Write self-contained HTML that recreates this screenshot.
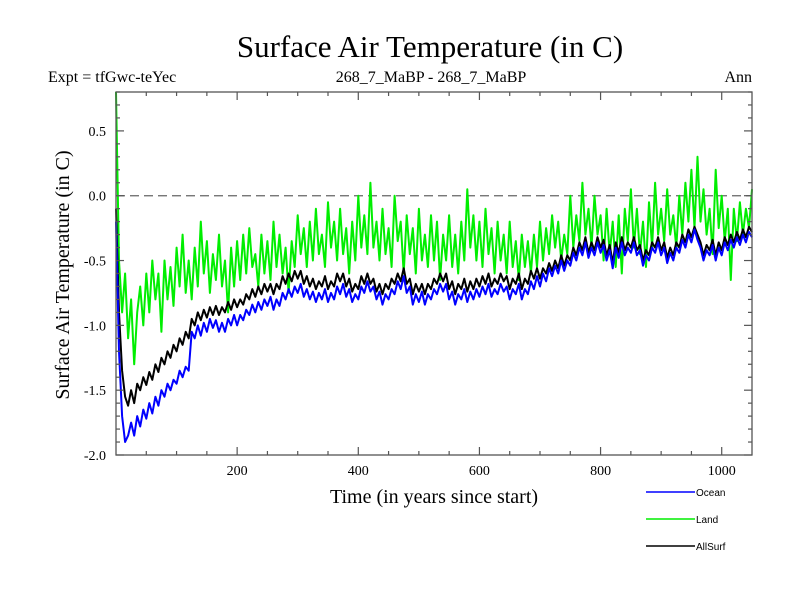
<!DOCTYPE html>
<html><head><meta charset="utf-8"><style>
body{margin:0;background:#fff;}
svg{display:block;}
text{font-family:"Liberation Serif",serif;}
</style></head><body>
<svg id="chart" width="800" height="600" xmlns="http://www.w3.org/2000/svg">
<text x="430" y="57" font-size="31" text-anchor="middle">Surface Air Temperature (in C)</text>
<text x="48" y="82" font-size="16">Expt = tfGwc-teYec</text>
<text x="431" y="82" font-size="16" text-anchor="middle">268_7_MaBP - 268_7_MaBP</text>
<text x="752" y="82" font-size="16" text-anchor="end">Ann</text>
<text transform="translate(69,275) rotate(-90)" font-size="20" text-anchor="middle">Surface Air Temperature (in C)</text>
<text x="434" y="503" font-size="20" text-anchor="middle">Time (in years since start)</text>
<g id="plot"></g>
<g id="axes"></g>
<g id="legend"></g>
</svg>
<script>
const landStep = 5;
const seriesStep = 5;
const landValues = [0.8,-0.5,-0.9,-0.6,-1.1,-0.8,-1.3,-0.9,-0.7,-1.0,-0.6,-0.9,-0.5,-0.8,-0.6,-1.05,-0.5,-0.8,-0.55,-0.85,-0.4,-0.7,-0.3,-0.75,-0.5,-0.8,-0.4,-0.7,-0.2,-0.6,-0.35,-0.75,-0.45,-0.65,-0.3,-0.7,-0.5,-0.9,-0.4,-0.7,-0.35,-0.65,-0.3,-0.6,-0.25,-0.55,-0.45,-0.7,-0.3,-0.6,-0.35,-0.65,-0.2,-0.55,-0.3,-0.6,-0.4,-0.75,-0.35,-0.55,-0.15,-0.45,-0.25,-0.55,-0.2,-0.5,-0.1,-0.45,-0.3,-0.55,-0.05,-0.4,-0.2,-0.5,-0.1,-0.45,-0.25,-0.6,-0.2,-0.5,0.0,-0.4,-0.15,-0.45,0.1,-0.4,-0.2,-0.5,-0.1,-0.45,-0.25,-0.55,0.0,-0.35,-0.2,-0.6,-0.15,-0.45,-0.25,-0.6,-0.1,-0.5,-0.3,-0.55,-0.15,-0.5,-0.2,-0.65,-0.3,-0.5,-0.15,-0.55,-0.3,-0.6,-0.2,-0.5,0.05,-0.4,-0.15,-0.5,-0.2,-0.55,-0.1,-0.45,-0.25,-0.6,-0.2,-0.5,-0.3,-0.6,-0.2,-0.55,-0.35,-0.65,-0.3,-0.55,-0.35,-0.6,-0.3,-0.55,-0.2,-0.5,-0.25,-0.45,-0.15,-0.4,-0.2,-0.5,-0.3,-0.45,0.0,-0.4,-0.15,-0.35,0.1,-0.3,-0.1,-0.4,0.0,-0.3,-0.15,-0.5,-0.1,-0.45,-0.2,-0.55,-0.15,-0.6,-0.1,-0.35,0.05,-0.4,-0.1,-0.45,-0.2,-0.55,-0.05,-0.4,0.1,-0.3,-0.1,-0.35,0.05,-0.3,-0.15,-0.4,0.0,-0.3,0.1,-0.2,0.2,-0.25,0.3,-0.2,0.05,-0.3,-0.1,-0.45,0.2,-0.25,0.0,-0.35,-0.1,-0.65,-0.1,-0.35,-0.05,-0.3,-0.1,-0.25,0.05];
const allSurfValues = [-0.1,-0.9,-1.35,-1.55,-1.62,-1.5,-1.6,-1.45,-1.5,-1.4,-1.46,-1.36,-1.42,-1.3,-1.36,-1.25,-1.3,-1.2,-1.25,-1.15,-1.2,-1.1,-1.15,-1.05,-1.1,-0.95,-1.0,-0.9,-0.96,-0.88,-0.94,-0.86,-0.92,-0.85,-0.92,-0.86,-0.9,-0.82,-0.88,-0.8,-0.86,-0.8,-0.84,-0.76,-0.8,-0.72,-0.78,-0.7,-0.76,-0.68,-0.74,-0.68,-0.76,-0.68,-0.72,-0.62,-0.68,-0.6,-0.66,-0.58,-0.64,-0.58,-0.68,-0.62,-0.7,-0.64,-0.72,-0.66,-0.7,-0.62,-0.72,-0.66,-0.7,-0.6,-0.66,-0.6,-0.7,-0.64,-0.74,-0.68,-0.72,-0.62,-0.68,-0.6,-0.68,-0.64,-0.74,-0.68,-0.76,-0.68,-0.72,-0.64,-0.68,-0.6,-0.66,-0.56,-0.68,-0.64,-0.76,-0.68,-0.74,-0.68,-0.76,-0.68,-0.72,-0.64,-0.68,-0.6,-0.66,-0.6,-0.72,-0.66,-0.76,-0.68,-0.72,-0.64,-0.74,-0.66,-0.72,-0.64,-0.7,-0.62,-0.68,-0.6,-0.7,-0.64,-0.68,-0.6,-0.66,-0.62,-0.72,-0.64,-0.68,-0.6,-0.72,-0.64,-0.68,-0.58,-0.64,-0.56,-0.64,-0.56,-0.6,-0.52,-0.58,-0.5,-0.56,-0.46,-0.54,-0.46,-0.5,-0.4,-0.46,-0.36,-0.42,-0.32,-0.44,-0.36,-0.42,-0.32,-0.4,-0.34,-0.46,-0.38,-0.52,-0.36,-0.44,-0.32,-0.42,-0.36,-0.4,-0.32,-0.42,-0.38,-0.5,-0.42,-0.46,-0.36,-0.4,-0.32,-0.42,-0.36,-0.48,-0.4,-0.46,-0.36,-0.4,-0.3,-0.36,-0.26,-0.32,-0.24,-0.3,-0.36,-0.46,-0.38,-0.42,-0.34,-0.46,-0.36,-0.42,-0.32,-0.38,-0.3,-0.36,-0.28,-0.34,-0.26,-0.32,-0.24,-0.28];
const oceanValues = [-0.2,-1.2,-1.7,-1.9,-1.85,-1.75,-1.85,-1.7,-1.78,-1.65,-1.72,-1.6,-1.68,-1.55,-1.62,-1.5,-1.55,-1.45,-1.5,-1.42,-1.45,-1.35,-1.4,-1.32,-1.35,-1.05,-1.1,-1.0,-1.08,-0.98,-1.05,-0.95,-1.02,-0.96,-1.05,-0.98,-1.05,-0.95,-1.0,-0.92,-1.0,-0.92,-0.96,-0.88,-0.92,-0.84,-0.9,-0.82,-0.88,-0.8,-0.85,-0.78,-0.88,-0.8,-0.85,-0.75,-0.8,-0.72,-0.78,-0.7,-0.75,-0.68,-0.78,-0.72,-0.8,-0.74,-0.82,-0.75,-0.8,-0.72,-0.82,-0.75,-0.8,-0.7,-0.76,-0.68,-0.78,-0.72,-0.82,-0.76,-0.8,-0.7,-0.75,-0.66,-0.74,-0.7,-0.8,-0.74,-0.84,-0.76,-0.8,-0.72,-0.76,-0.66,-0.72,-0.62,-0.75,-0.7,-0.84,-0.76,-0.82,-0.74,-0.84,-0.76,-0.8,-0.72,-0.76,-0.68,-0.74,-0.68,-0.8,-0.74,-0.84,-0.76,-0.8,-0.72,-0.82,-0.74,-0.8,-0.72,-0.78,-0.7,-0.76,-0.68,-0.78,-0.72,-0.76,-0.68,-0.74,-0.7,-0.8,-0.72,-0.76,-0.68,-0.8,-0.72,-0.76,-0.66,-0.72,-0.62,-0.7,-0.6,-0.66,-0.56,-0.62,-0.54,-0.6,-0.5,-0.58,-0.5,-0.54,-0.44,-0.5,-0.4,-0.46,-0.36,-0.48,-0.4,-0.46,-0.36,-0.44,-0.38,-0.5,-0.42,-0.56,-0.4,-0.48,-0.36,-0.46,-0.4,-0.44,-0.36,-0.46,-0.42,-0.54,-0.46,-0.5,-0.4,-0.44,-0.36,-0.46,-0.4,-0.52,-0.44,-0.5,-0.4,-0.44,-0.34,-0.4,-0.3,-0.36,-0.26,-0.34,-0.4,-0.5,-0.42,-0.46,-0.38,-0.5,-0.4,-0.46,-0.36,-0.42,-0.34,-0.4,-0.32,-0.38,-0.3,-0.36,-0.28,-0.32];
const yTicks = [-2.0,-1.5,-1.0,-0.5,0.0,0.5];
const yTickLabels = ["-2.0","-1.5","-1.0","-0.5","0.0","0.5"];
const xTicks = [200,400,600,800,1000];
const xTickLabels = ["200","400","600","800","1000"];
const legendNames = ["Ocean","Land","AllSurf"];
const legendColors = ["#0000ff","#00ee00","#000000"];

const NS="http://www.w3.org/2000/svg";
const L=116,R=752,T=92,B=455,X0=0,X1=1050,Y0=-2.0,Y1=0.8;
function sx(v){return L+(v-X0)/(X1-X0)*(R-L);}
function sy(v){return B-(v-Y0)/(Y1-Y0)*(B-T);}
function mk(tag,attrs,parent){const e=document.createElementNS(NS,tag);for(const k in attrs)e.setAttribute(k,attrs[k]);parent.appendChild(e);return e;}
const plot=document.getElementById('plot'),axes=document.getElementById('axes'),legend=document.getElementById('legend');

const zl=mk('line',{x1:L,x2:R,y1:sy(0),y2:sy(0),stroke:'#666','stroke-width':1.3,'stroke-dasharray':'9,5'},plot);



function drawSeries(vals,step,color,name){
  const pts=vals.map((v,i)=>sx(i*step).toFixed(1)+','+sy(v).toFixed(1)).join(' ');
  const p=mk('polyline',{points:pts,fill:'none',stroke:color,'stroke-width':2,'stroke-linejoin':'round'},plot);
  
  
}
drawSeries(landValues,landStep,'#00ee00','land-series');
drawSeries(allSurfValues,seriesStep,'#000000','allsurf-series');
drawSeries(oceanValues,seriesStep,'#0000ff','ocean-series');

const frame=mk('rect',{x:L,y:T,width:R-L,height:B-T,fill:'none',stroke:'#555','stroke-width':1.3},axes);



for(let v=-20;v<=8;v++){
  const y=sy(v/10),major=(v%5===0),len=major?8:4;
  mk('line',{x1:L,x2:L+len,y1:y,y2:y,stroke:'#555','stroke-width':1.2},axes);
  mk('line',{x1:R,x2:R-len,y1:y,y2:y,stroke:'#555','stroke-width':1.2},axes);
}
for(let v=50;v<1050;v+=50){
  const x=sx(v),major=(v%200===0),len=major?8:4;
  mk('line',{x1:x,x2:x,y1:B,y2:B-len,stroke:'#555','stroke-width':1.2},axes);
  mk('line',{x1:x,x2:x,y1:T,y2:T+len,stroke:'#555','stroke-width':1.2},axes);
}
yTicks.forEach((v,i)=>{
  const t=mk('text',{x:L-10,y:sy(v)+5,'font-size':14,'text-anchor':'end'},axes);
  t.textContent=yTickLabels[i];
  
  
});
xTicks.forEach((v,i)=>{
  const t=mk('text',{x:sx(v),y:B+20,'font-size':14,'text-anchor':'middle'},axes);
  t.textContent=xTickLabels[i];
  
  
});
legendNames.forEach((n,i)=>{
  const y=492+i*27;
  const g=mk('g',{},legend);
  
  
  mk('line',{x1:646,x2:695,y1:y,y2:y,stroke:legendColors[i],'stroke-width':1.5},g);
  const t=mk('text',{x:696,y:y+4,'font-size':10,style:'font-family:"Liberation Sans",sans-serif'},g);
  t.textContent=n;
});
</script>
</body></html>
